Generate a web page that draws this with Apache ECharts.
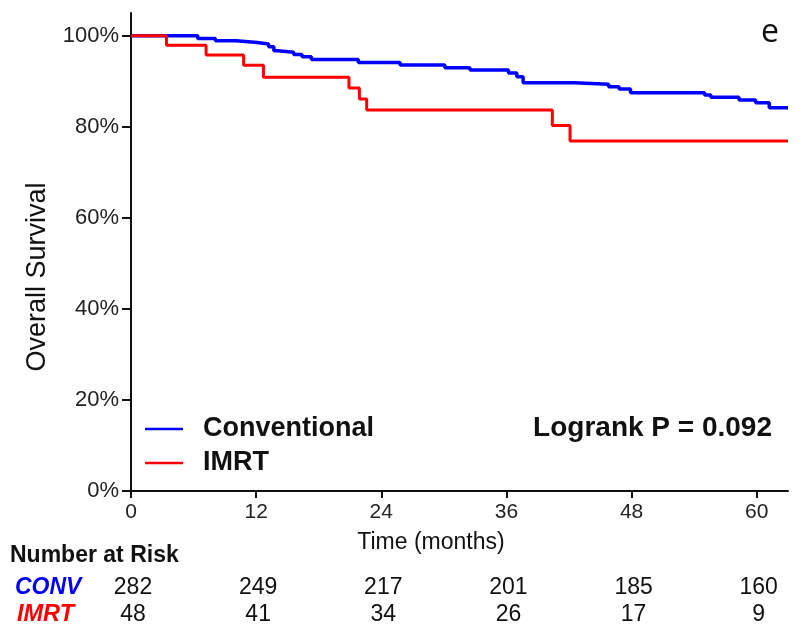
<!DOCTYPE html>
<html>
<head>
<meta charset="utf-8">
<script src="https://cdn.jsdelivr.net/npm/echarts@6/dist/echarts.min.js"></script>
<style>
html,body{margin:0;padding:0;background:#fff;}
#chart{width:800px;height:642px;}
</style>
</head>
<body>
<div id="chart"></div>
<script>
// Kaplan-Meier step points: [month of event, survival % after event]
var convMonths = [0, 6.4, 8.1, 10.1, 12.1, 13.2, 13.7, 14.1, 15.6, 16.4, 17.3, 21.8, 25.8, 30.1, 32.5, 36.2, 37.0, 37.6, 42.5, 45.8, 46.8, 47.9, 55.0, 55.6, 58.3, 59.9, 61.2, 63];
var convSurv   = [100, 99.4, 98.9, 98.5, 98.2, 97.6, 96.7, 96.4, 95.9, 95.4, 94.8, 94.1, 93.6, 93.0, 92.5, 91.8, 91.0, 89.7, 89.35, 88.8, 88.3, 87.5, 87.0, 86.5, 85.9, 85.3, 84.2, 84.2];
var imrtMonths = [0, 3.4, 7.2, 10.8, 12.7, 20.9, 21.9, 22.6, 40.4, 42.1, 63];
var imrtSurv   = [100, 97.9, 95.8, 93.5, 90.9, 88.5, 86.1, 83.7, 80.3, 76.9, 76.9];

var xTicks = [0, 12, 24, 36, 48, 60];
var yTicks = [0, 20, 40, 60, 80, 100];
var riskConv = [282, 249, 217, 201, 185, 160];
var riskImrt = [48, 41, 34, 26, 17, 9];
var groupNames = ['Conventional', 'IMRT'];
var riskLabels = ['CONV', 'IMRT'];
var pValueText = 'Logrank P = 0.092';
var panelLetter = 'e';

function pairs(xs, ys){ return xs.map(function(x,i){ return [x, ys[i]]; }); }

var FONT = 'Liberation Sans, Arial, sans-serif';
var chart = echarts.init(document.getElementById('chart'));
var option = {
  animation: false,
  backgroundColor: '#fff',
  grid: {left: 131, right: 12, top: 13, bottom: 151, containLabel: false},
  xAxis: {
    type: 'value', min: 0, max: 63, interval: 12,
    name: 'Time (months)', nameLocation: 'middle', nameGap: 40,
    nameTextStyle: {fontFamily: FONT, fontSize: 23, color: '#111', padding: [0, 57, 0, 0]},
    axisLine: {lineStyle: {color: '#111', width: 2}},
    axisTick: {customValues: xTicks, length: 7, lineStyle: {color: '#111', width: 2}},
    axisLabel: {customValues: xTicks, margin: 11, fontFamily: FONT, fontSize: 21, color: '#222'},
    splitLine: {show: false}
  },
  yAxis: {
    type: 'value', min: 0, max: 105, interval: 20,
    name: 'Overall Survival', nameLocation: 'middle', nameGap: 80, nameRotate: 90,
    nameTextStyle: {fontFamily: FONT, fontSize: 27, color: '#111', padding: [0, 50, 0, 0]},
    axisLine: {show: true, lineStyle: {color: '#111', width: 2}},
    axisTick: {show: true, customValues: yTicks, length: 9, lineStyle: {color: '#111', width: 2}},
    axisLabel: {customValues: yTicks, margin: 12, fontFamily: FONT, fontSize: 22, color: '#222', formatter: '{value}%'},
    splitLine: {show: false}
  },
  legend: {
    orient: 'vertical', left: 145, top: 415, padding: 0, itemWidth: 38, itemHeight: 2.5, itemGap: 6,
    icon: 'rect',
    data: groupNames,
    textStyle: {fontFamily: FONT, fontSize: 27, fontWeight: 'bold', color: '#111', lineHeight: 28, padding: [0, 0, 0, 15]}
  },
  series: [
    {name: groupNames[0], type: 'line', step: 'end', symbol: 'none', color: '#0000ff',
     lineStyle: {color: '#0000ff', width: 3.5}, data: pairs(convMonths, convSurv)},
    {name: groupNames[1], type: 'line', step: 'end', symbol: 'none', color: '#ff0000',
     lineStyle: {color: '#ff0000', width: 3}, data: pairs(imrtMonths, imrtSurv)}
  ]
};
chart.setOption(option);

var g = [];
g.push({type: 'text', style: {text: pValueText, x: 772, y: 428, align: 'right', verticalAlign: 'middle', font: 'bold 28px ' + FONT, fill: '#111'}});
g.push({type: 'text', style: {text: panelLetter, x: 770, y: 33, align: 'center', verticalAlign: 'middle', font: '32px Open Sans, sans-serif', fill: '#111'}});
g.push({type: 'text', style: {text: 'Number at Risk', x: 10, y: 556, align: 'left', verticalAlign: 'middle', font: 'bold 23px ' + FONT, fill: '#111'}});
g.push({type: 'text', style: {text: riskLabels[0], x: 15, y: 588, align: 'left', verticalAlign: 'middle', font: 'italic bold 23px ' + FONT, fill: '#0000ff'}});
g.push({type: 'text', style: {text: riskLabels[1], x: 17, y: 615, align: 'left', verticalAlign: 'middle', font: 'italic bold 23.5px ' + FONT, fill: '#ff0000'}});
xTicks.forEach(function(t, i){
  var px = chart.convertToPixel({gridIndex: 0}, [t, 0])[0] + 2;
  g.push({type: 'text', style: {text: String(riskConv[i]), x: px, y: 588, align: 'center', verticalAlign: 'middle', font: '23px ' + FONT, fill: '#111'}});
  g.push({type: 'text', style: {text: String(riskImrt[i]), x: px, y: 615, align: 'center', verticalAlign: 'middle', font: '23px ' + FONT, fill: '#111'}});
});
chart.setOption({graphic: g});
</script>
</body>
</html>
